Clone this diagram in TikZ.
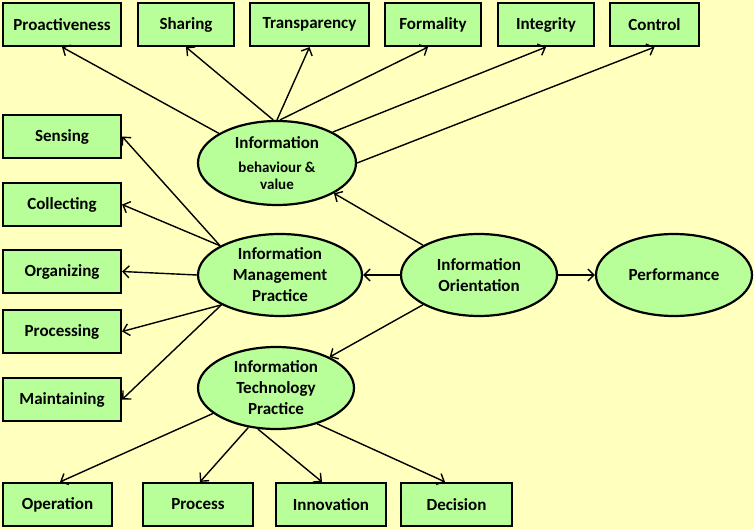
\documentclass[tikz,border=0pt]{standalone}
\usepackage{fontspec}
\setmainfont{Carlito}
\usetikzlibrary{shapes.geometric,arrows.meta,calc}
\definecolor{bgyellow}{RGB}{255,255,190}
\definecolor{boxgreen}{RGB}{184,255,154}
\tikzset{
  sq/.style={draw=black,line width=2.2pt,fill=boxgreen,inner sep=0pt,minimum height=43pt,font=\fontsize{17}{21}\selectfont\bfseries},
  ell/.style={ellipse,draw=black,line width=2.2pt,fill=boxgreen,inner sep=0pt,align=center,font=\fontsize{17}{21}\selectfont\bfseries},
  arr/.style={line width=1.4pt,-{Straight Barb[length=6pt,width=12pt,line width=1.4pt]}}
}
\begin{document}
\begin{tikzpicture}[x=1pt,y=-1pt]
\useasboundingbox (0,0) rectangle (754,529);
\fill[bgyellow] (0,0) rectangle (754,529);
% top row
\node[sq,minimum width=118pt] (proact) at (62,24.5) {Proactiveness};
\node[sq,minimum width=96pt] (sharing) at (186,24.5) {Sharing};
\node[sq,minimum width=119pt] (transp) at (309.5,24.5) {Transparency};
\node[sq,minimum width=96pt] (formal) at (433,24.5) {Formality};
\node[sq,minimum width=96pt] (integ) at (546,24.5) {Integrity};
\node[sq,minimum width=89pt] (control) at (654.5,24.5) {Control};
% left column
\node[sq,minimum width=118pt] (sensing) at (62,136.5) {Sensing};
\node[sq,minimum width=118pt] (collect) at (62,204.5) {Collecting};
\node[sq,minimum width=118pt] (organ) at (62,271.5) {Organizing};
\node[sq,minimum width=118pt] (process) at (62,331.5) {Processing};
\node[sq,minimum width=118pt] (maint) at (62,399.5) {Maintaining};
% bottom row
\node[sq,minimum width=109pt] (oper) at (57.5,504.5) {Operation};
\node[sq,minimum width=110pt] (proc) at (198,504.5) {Process};
\node[sq,minimum width=110pt] (innov) at (331,504.5) {Innovation};
\node[sq,minimum width=111pt] (decis) at (456.5,504.5) {Decision};
% ellipses
\node[ell,minimum width=158pt,minimum height=84pt] (ibv) at (277,163) {Information\\[3pt]{\fontsize{15}{17}\selectfont\bfseries behaviour \&}\\[-4pt]{\fontsize{15}{17}\selectfont\bfseries value}};
\node[ell,minimum width=164pt,minimum height=82pt] (imp) at (280,275) {Information\\Management\\Practice};
\node[ell,minimum width=156pt,minimum height=82pt] (itp) at (276,388) {Information\\Technology\\Practice};
\node[ell,minimum width=156pt,minimum height=82pt] (io) at (479,275) {Information\\Orientation};
\node[ell,minimum width=156pt,minimum height=82pt] (perf) at (674,275) {Performance};
% arrows from IBV
\draw[arr] (ibv.153) -- (proact.south);
\draw[arr] (ibv.95) -- (sharing.south);
\draw[arr] (ibv.90) -- (transp.south);
\draw[arr] (ibv.86) -- ($(formal.south)+(-5,0)$);
\draw[arr] (ibv.29) -- (integ.south);
\draw[arr] (ibv.0) -- (control.south);
% arrows from IMP
\draw[arr] (imp.154) -- (sensing.east);
\draw[arr] (imp.154) -- (collect.east);
\draw[arr] (imp.180) -- (organ.east);
\draw[arr] (imp.207) -- (process.east);
\draw[arr] (imp.207) -- (maint.east);
% arrows from ITP
\draw[arr] (itp.202) -- ($(oper.north)+(2.5,0)$);
\draw[arr] (itp.235) -- ($(proc.north)+(2,0)$);
\draw[arr] (itp.246) -- ($(innov.north)+(-9,0)$);
\draw[arr] (itp.319) -- ($(decis.north)+(-11.5,0)$);
% arrows from IO
\draw[arr] (io.152) -- (ibv.332);
\draw[arr] (io.west) -- (imp.east);
\draw[arr] (io.208) -- (itp.30);
\draw[arr] (io.east) -- (perf.west);
\end{tikzpicture}
\end{document}
